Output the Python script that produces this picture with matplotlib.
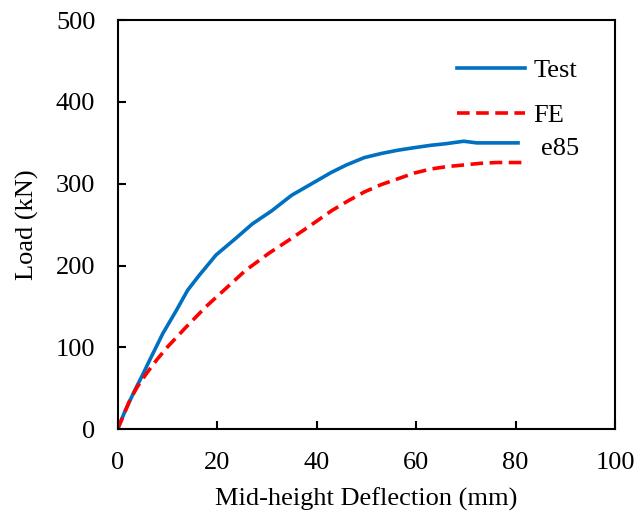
import matplotlib
matplotlib.use("Agg")
import matplotlib.pyplot as plt

plt.rcParams["font.family"] = ["Liberation Serif", "DejaVu Serif"]
plt.rcParams["font.size"] = 19

# Ensaio (Test)
test_x = [0, 1.5, 3.5, 5.0, 6.5, 9.1, 11.8, 14.1, 16.4, 19.8, 23.7, 27.1, 31.0,
          35.0, 39.0, 43.0, 46.0, 49.6, 53.0, 56.3, 59.5, 62.9, 66.0, 69.6,
          72.2, 76.0, 80.5]
test_y = [0, 22, 48, 66, 85, 117, 145, 170, 188, 213, 233, 251, 267,
          286, 300, 314, 323, 332, 337, 341, 344, 347, 349, 352,
          350, 350, 350]

# Modelo numérico (FE)
fe_x = [0, 1.2, 2.5, 4.0, 5.8, 7.9, 10.1, 13.8, 17.8, 21.4, 25.7, 30.4, 34.4,
        38.3, 43.0, 46.3, 49.6, 53.0, 56.3, 59.6, 62.9, 66.2, 69.6, 72.9,
        76.2, 79.3, 82.5]
fe_y = [0, 17, 36, 52, 68, 85, 101, 125, 150, 170, 194, 215, 231,
        247, 267, 279, 290, 299, 306, 313, 318, 321, 323, 325,
        326, 326, 326]

fig = plt.figure(figsize=(6.4, 5.16), dpi=100)
ax = fig.add_axes([0.1836, 0.168, 0.7774, 0.793])

ax.plot(test_x, test_y, color="#0070C0", lw=2.6, label="Test")
ax.plot(fe_x, fe_y, color="#FF0000", lw=2.6, ls=(0, (3.5, 1.8)), label="FE")
ax.text(85.2, 343, "e85", va="center", ha="left")

ax.set_xlim(0, 100)
ax.set_ylim(0, 500)
ax.set_xticks(range(0, 101, 20))
ax.set_yticks(range(0, 501, 100))
ax.set_xlabel("Mid-height Deflection (mm)", labelpad=10)
ax.set_ylabel("Load (kN)", labelpad=12)

for s in ax.spines.values():
    s.set_linewidth(1.5)
ax.tick_params(direction="in", length=6, width=1.5, pad=16)

ax.legend(loc="upper left", bbox_to_anchor=(0.682, 0.906), frameon=False,
          borderpad=0, borderaxespad=0, handlelength=2.6, handletextpad=0.3,
          labelspacing=0.82)

fig.savefig("out.png", dpi=100)
